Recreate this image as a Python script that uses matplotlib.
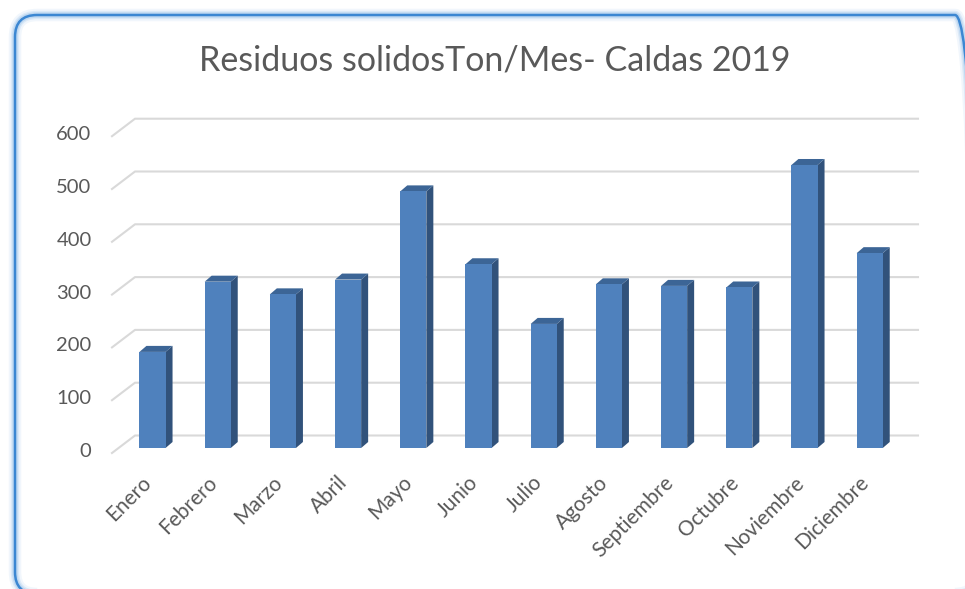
import matplotlib.pyplot as plt
from matplotlib.patches import Polygon, FancyBboxPatch
from matplotlib.transforms import ScaledTranslation

# Datos (Ton/Mes)
meses = ['Enero', 'Febrero', 'Marzo', 'Abril', 'Mayo', 'Junio', 'Julio',
         'Agosto', 'Septiembre', 'Octubre', 'Noviembre', 'Diciembre']
toneladas = [182, 315, 291, 319, 486, 348, 235, 310, 307, 304, 536, 369]
ticks_y = [0, 100, 200, 300, 400, 500, 600]
titulo = 'Residuos solidosTon/Mes- Caldas 2019'

W, H = 965, 589
gris = '#595959'
azul = '#4f81bd'
azul_lado = '#31527b'
azul_top = '#3c6596'
grid_col = '#d9d9d9'

plt.rcParams['font.family'] = ['Lato', 'DejaVu Sans']

fig = plt.figure(figsize=(W / 100, H / 100), dpi=100)

# fondo con borde redondeado (coordenadas en pixeles, y hacia arriba)
bg = fig.add_axes([0, 0, 1, 1], zorder=-1)
bg.set_xlim(0, W)
bg.set_ylim(0, H)
bg.axis('off')
caja = (15, H - 594), 962, 579
for lw, a in [(9, 0.12), (6, 0.22), (4, 0.35)]:
    p = FancyBboxPatch(*caja, boxstyle='round,pad=0,rounding_size=22',
                       fill=False, ec='#8dbbe8', lw=lw, alpha=a)
    p.set_in_layout(False)
    bg.add_patch(p)
p = FancyBboxPatch(*caja, boxstyle='round,pad=0,rounding_size=22',
                   fill=False, ec='#3c87d2', lw=1.8)
p.set_in_layout(False)
bg.add_patch(p)

# plano frontal de las barras: 0 -> y=448px, 600 -> y=131px
x0_px, dx_px = 152.5, 65.2
y0_px, sy = 448.0, 0.528
left_px, right_px = 118, 902
ax = fig.add_axes([left_px / W, (H - y0_px) / H, (right_px - left_px) / W, 600 * sy / H])
ax.set_facecolor('none')
ax.set_xlim((left_px - x0_px) / dx_px, (right_px - x0_px) / dx_px)
ax.set_ylim(0, 600)
for s in ax.spines.values():
    s.set_visible(False)

def px_x(p):
    return (p - x0_px) / dx_px

def px_y(p):
    return p / sy

# lineas de cuadricula (pared del fondo + piso inclinado)
for v in ticks_y:
    xf, yf = px_x(112), v - px_y(5)
    xb, yb = px_x(135), v + px_y(12.5)
    xe = px_x(918)
    ax.plot([xf, xb, xe], [yf, yb, yb], color=grid_col, lw=1.5, clip_on=False, zorder=1)

# barras 3D
w = 0.4
ddx, ddy = px_x(7) - px_x(0), px_y(6)
xs = list(range(len(meses)))
ax.bar(xs, toneladas, width=w, color=azul, zorder=3, clip_on=False)
for x, v in zip(xs, toneladas):
    r, l = x + w / 2, x - w / 2
    ax.add_patch(Polygon([(r, 0), (r + ddx, ddy), (r + ddx, v + ddy), (r, v)],
                         closed=True, fc=azul_lado, ec='none', zorder=2, clip_on=False))
    ax.add_patch(Polygon([(l, v), (l + ddx, v + ddy), (r + ddx, v + ddy), (r, v)],
                         closed=True, fc=azul_top, ec='none', zorder=2, clip_on=False))

ax.set_yticks(ticks_y)
ax.set_yticklabels([str(t) for t in ticks_y])
ax.set_xticks(xs)
ax.set_xticklabels(meses, rotation=45, ha='right', rotation_mode='anchor', va='center')
ax.tick_params(axis='y', length=0, pad=19, labelsize=14.5, labelcolor=gris)
ax.tick_params(axis='x', length=0, pad=22, labelsize=15, labelcolor=gris)

# pequeños ajustes de posicion de las etiquetas
off_y = ScaledTranslation(0, -2 / 100, fig.dpi_scale_trans)
for t in ax.get_yticklabels():
    t.set_transform(t.get_transform() + off_y)
off_x = ScaledTranslation(-4 / 100, -1 / 100, fig.dpi_scale_trans)
for t in ax.get_xticklabels():
    t.set_transform(t.get_transform() + off_x)

fig.text(495 / W, 1 - 60 / H, titulo, ha='center', va='center', fontsize=24.5, color=gris)

fig.savefig('out.png', dpi=100)
